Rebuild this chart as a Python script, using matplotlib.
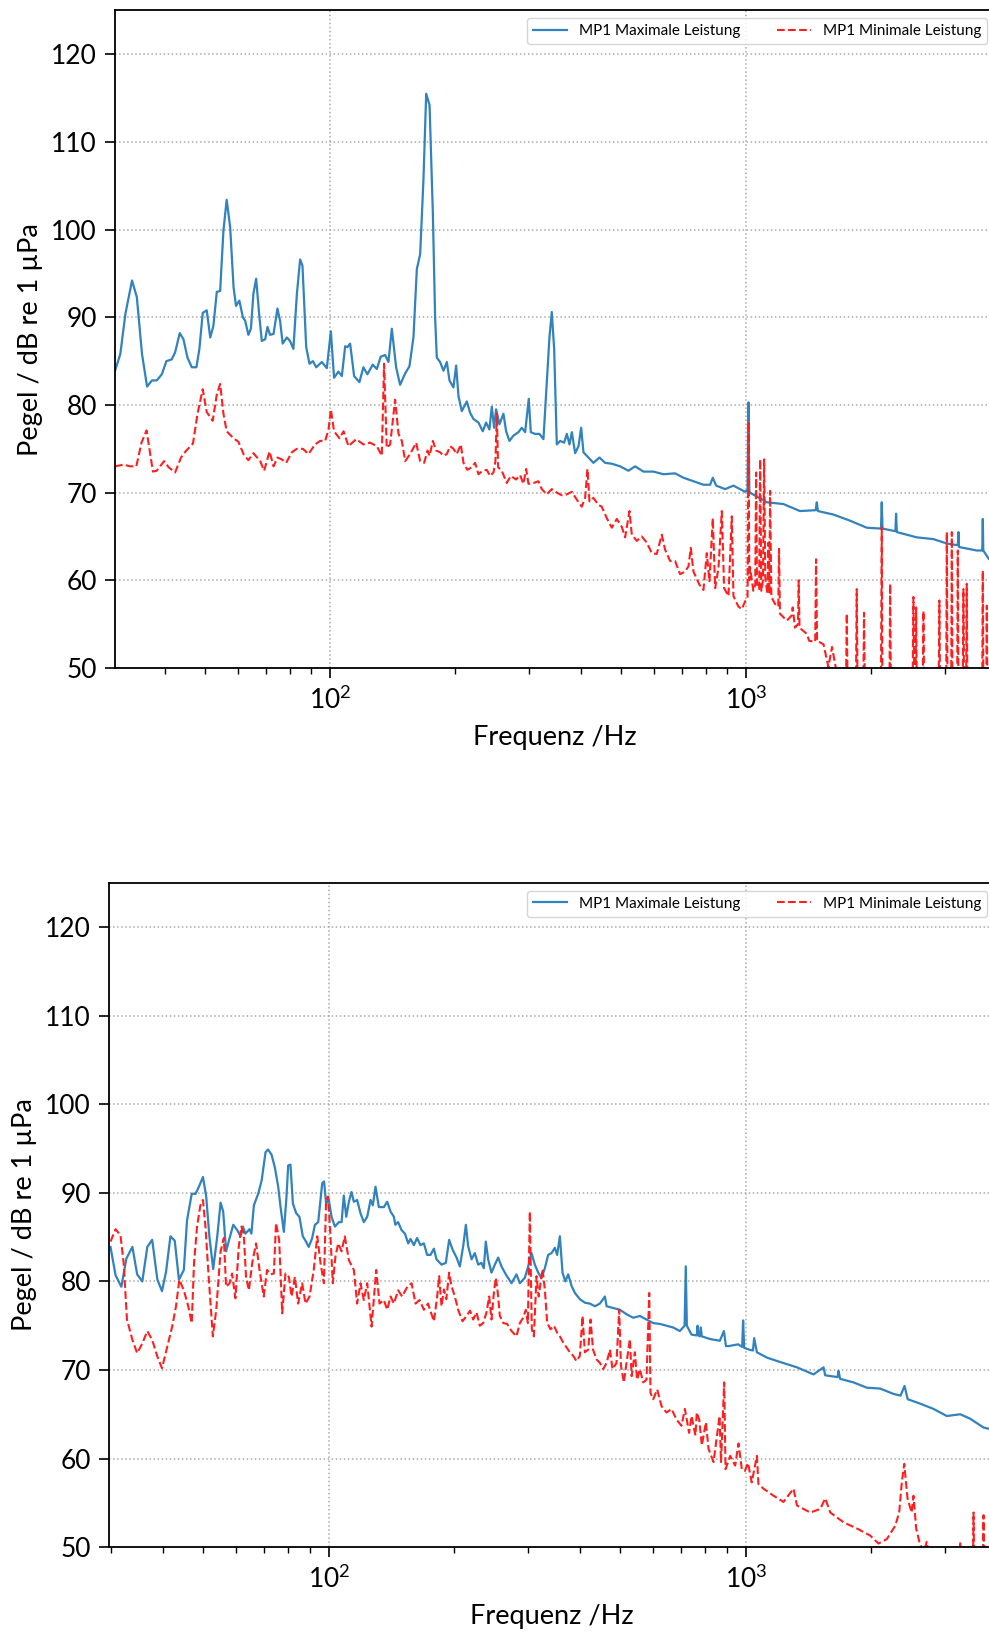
import matplotlib
matplotlib.use("Agg")
import matplotlib.pyplot as plt
from matplotlib.ticker import LogLocator, NullFormatter

plt.rcParams['font.family'] = ['Lato', 'DejaVu Sans']

# (Frequenz Hz, Pegel dB) - oberes Diagramm
top_max = [
    (30.4, 83.9), (31.3, 85.8), (32.2, 90.4), (33.4, 94.2), (34.3, 92.3), (35.3, 85.8),
    (36.3, 82.1), (37.3, 82.8), (38.3, 82.8), (39.4, 83.5), (40.4, 85.0), (41.6, 85.2),
    (42.4, 86.0), (43.5, 88.2), (44.4, 87.5), (45.4, 85.4), (46.5, 84.3), (47.7, 84.3),
    (48.5, 86.4), (49.4, 90.5), (50.5, 90.8), (51.5, 87.7), (52.4, 89.0), (53.4, 92.9),
    (54.4, 93.0), (55.4, 99.9), (56.4, 103.4), (57.5, 100.3), (58.6, 93.4), (59.4, 91.3),
    (60.5, 91.9), (61.7, 90.0), (62.5, 89.6), (63.6, 88.0), (64.5, 88.7), (65.4, 92.7),
    (66.4, 94.4), (67.5, 90.4), (68.5, 87.3), (69.8, 87.5), (70.7, 88.9), (71.7, 88.0),
    (73.1, 88.1), (74.7, 91.0), (75.8, 89.6), (76.9, 87.0), (78.7, 87.7), (80.1, 87.3),
    (81.6, 86.4), (83.2, 92.7), (84.7, 96.6), (85.8, 95.9), (87.6, 86.6), (89.2, 84.7),
    (90.9, 85.0), (92.6, 84.3), (95.5, 84.9), (98.2, 84.2), (100.4, 88.4), (102.2, 83.1),
    (104.7, 83.8), (106.7, 83.3), (108.7, 86.7), (110.1, 86.6), (111.7, 87.0), (114.2, 83.3),
    (117.6, 82.6), (120.2, 84.3), (122.9, 83.5), (126.6, 84.6), (129.5, 84.1), (132.3, 85.5),
    (135.6, 85.7), (138.1, 84.9), (140.7, 88.7), (144.1, 84.3), (147.3, 82.3), (151.5, 83.6),
    (155.1, 84.4), (158.6, 87.7), (161.6, 95.5), (164.6, 97.2), (167.6, 105.6), (170.2, 115.5),
    (173.4, 114.2), (176.6, 101.8), (178.8, 90.0), (180.5, 85.4), (183.8, 84.9), (187.3, 83.9),
    (190.8, 84.9), (193.6, 82.8), (197.9, 82.0), (200.9, 84.5), (203.5, 81.0), (207.3, 79.3),
    (213.1, 80.4), (217.1, 79.1), (221.1, 78.4), (227.3, 78.0), (232.8, 77.0), (237.1, 78.0),
    (241.5, 77.2), (244.7, 79.8), (247.9, 77.4), (250.6, 79.5), (255.3, 77.8), (261.0, 79.0),
    (264.9, 77.0), (269.8, 75.9), (275.9, 76.5), (283.6, 76.9), (288.9, 77.4), (294.3, 76.9),
    (300.3, 80.7), (303.7, 76.9), (311.0, 76.7), (318.5, 76.7), (325.7, 76.1), (331.7, 82.4),
    (336.7, 87.7), (341.1, 90.6), (345.6, 86.4), (350.7, 75.5), (357.2, 75.9), (365.2, 75.7),
    (370.7, 76.7), (376.2, 75.5), (381.1, 76.9), (388.2, 74.5), (395.5, 75.3), (401.3, 77.4),
    (406.5, 74.6), (417.9, 74.0), (429.5, 73.4), (444.1, 74.0), (458.3, 73.4), (475.5, 73.3),
    (497.9, 73.0), (521.3, 72.5), (541.0, 73.0), (566.5, 72.4), (598.7, 72.4), (632.9, 72.1),
    (675.0, 72.2), (707.0, 71.7), (747.2, 71.3), (789.7, 70.9), (819.5, 70.9), (831.7, 71.7),
    (847.2, 70.8), (890.4, 70.4), (932.4, 70.8), (994.5, 70.1), (1008, 70.3), (1013, 80.3),
    (1018, 70.2), (1022, 70.0), (1121, 68.9), (1229, 68.7), (1348, 67.9), (1470, 68.0),
    (1479, 68.9), (1488, 67.9), (1622, 67.5), (1778, 66.8), (1950, 66.0), (2110, 65.9),
    (2119, 68.9), (2128, 65.9), (2285, 65.6), (2294, 67.6), (2304, 65.5), (2572, 64.9),
    (2820, 64.7), (3038, 64.2), (3228, 64.0), (3239, 65.5), (3250, 63.8), (3585, 63.4),
    (3697, 63.4), (3707, 67.0), (3717, 63.4), (3838, 62.4), (3960, 62.8),
]

top_min = [
    (30.4, 73.0), (31.9, 73.2), (33.0, 73.0), (34.2, 73.0), (35.2, 75.7), (36.2, 77.1),
    (37.5, 72.4), (38.3, 72.5), (39.9, 73.6), (40.9, 72.9), (42.4, 72.3), (43.8, 74.0),
    (45.1, 74.8), (46.8, 75.6), (48.0, 79.0), (49.4, 81.8), (50.5, 79.2), (52.2, 78.2),
    (53.4, 81.2), (54.4, 82.4), (55.4, 79.0), (56.4, 77.0), (58.6, 76.2), (60.2, 75.8),
    (61.9, 74.4), (63.6, 73.7), (65.4, 74.5), (67.9, 73.6), (69.4, 72.5), (71.5, 74.7),
    (73.1, 73.0), (74.7, 74.0), (76.5, 73.8), (78.4, 73.4), (80.9, 74.6), (83.2, 75.0),
    (86.0, 75.0), (88.7, 74.4), (92.0, 75.5), (94.6, 75.9), (97.3, 75.9), (99.1, 77.2),
    (100.4, 79.5), (102.2, 77.0), (105.3, 76.2), (107.7, 77.0), (110.7, 75.3), (115.5, 76.1),
    (120.2, 75.5), (124.8, 75.7), (129.5, 75.3), (133.1, 74.2), (134.8, 84.7), (136.8, 75.1),
    (139.4, 75.5), (143.3, 80.6), (146.0, 76.7), (148.7, 75.9), (151.5, 73.6), (155.7, 74.4),
    (161.0, 75.7), (164.6, 73.6), (168.3, 73.4), (171.4, 74.8), (173.4, 74.2), (176.6, 75.9),
    (179.8, 74.8), (183.8, 74.6), (187.3, 74.2), (190.8, 74.4), (194.3, 75.3), (197.9, 75.0),
    (201.6, 74.4), (206.1, 75.5), (209.2, 73.4), (213.8, 72.6), (219.0, 72.9), (223.1, 73.4),
    (227.3, 72.1), (232.8, 72.5), (238.0, 72.6), (242.4, 71.9), (247.0, 72.3), (249.7, 73.6),
    (251.6, 79.0), (253.4, 72.9), (258.6, 72.5), (265.8, 71.1), (271.8, 71.9), (280.0, 71.5),
    (286.2, 72.0), (291.5, 71.0), (296.0, 72.7), (299.8, 71.0), (308.2, 71.1), (316.8, 71.3),
    (322.7, 70.4), (331.7, 69.8), (341.1, 70.4), (350.7, 70.0), (360.5, 69.7), (370.7, 69.8),
    (381.1, 70.1), (391.7, 69.2), (402.7, 68.4), (410.2, 69.4), (415.6, 72.7), (420.2, 69.0),
    (429.5, 69.4), (441.6, 68.6), (449.8, 68.4), (462.4, 67.1), (475.5, 66.0), (488.8, 67.0),
    (502.5, 66.1), (511.9, 64.9), (524.4, 67.9), (531.2, 65.2), (546.0, 64.5), (561.3, 65.0),
    (577.0, 64.3), (593.2, 63.1), (609.8, 63.0), (627.0, 65.2), (638.7, 63.5), (656.6, 62.2),
    (675.0, 62.2), (693.9, 60.7), (713.6, 61.0), (726.9, 61.6), (736.3, 63.7), (747.2, 61.0),
    (772.4, 59.5), (789.7, 58.9), (804.4, 63.1), (816.4, 59.9), (831.7, 67.1), (842.5, 59.1),
    (858.2, 61.4), (874.2, 67.9), (885.5, 59.1), (907.0, 58.2), (923.9, 67.3), (932.4, 58.2),
    (958.5, 57.0), (976.3, 56.7), (994.5, 57.6), (1008, 58.0), (1013, 78.1), (1018, 60.0),
    (1022, 61.5), (1041, 58.8), (1052, 59.5), (1057, 72.3), (1062, 59.6), (1075, 59.0),
    (1081, 73.8), (1088, 58.8), (1098, 60.0), (1105, 73.8), (1112, 60.3), (1125, 58.5),
    (1132, 64.3), (1137, 58.5), (1142, 70.2), (1150, 58.1), (1174, 57.3), (1195, 57.0),
    (1200, 63.6), (1206, 56.2), (1253, 55.4), (1288, 56.0), (1294, 56.9), (1311, 54.6),
    (1333, 55.0), (1338, 60.0), (1344, 54.6), (1399, 53.9), (1418, 53.1), (1466, 53.0),
    (1473, 62.4), (1481, 53.1), (1535, 52.7), (1577, 50.1), (1609, 52.4), (1642, 50.1),
    (1677, 49.5), (1740, 49.5), (1746, 56.2), (1752, 49.5), (1838, 49.3), (1845, 59.0),
    (1852, 49.3), (1915, 49.3), (1921, 56.3), (1928, 49.0), (2017, 49.0), (2110, 49.0),
    (2119, 66.0), (2126, 49.0), (2212, 49.0), (2220, 59.6), (2228, 49.0), (2345, 49.5),
    (2515, 49.0), (2525, 58.1), (2535, 49.0), (2555, 49.0), (2563, 56.9), (2571, 49.0),
    (2660, 49.0), (2669, 56.5), (2678, 49.0), (2905, 49.0), (2915, 57.7), (2925, 49.0),
    (3028, 49.0), (3038, 65.5), (3048, 49.0), (3113, 49.0), (3123, 65.5), (3133, 49.0),
    (3218, 49.0), (3228, 63.4), (3238, 49.0), (3320, 49.0), (3330, 59.0), (3340, 49.0),
    (3382, 49.0), (3392, 59.6), (3402, 49.0), (3697, 49.0), (3707, 61.1), (3717, 49.0),
    (3780, 49.0), (3790, 57.1), (3800, 49.0), (3960, 49.0),
]

# (Frequenz Hz, Pegel dB) - unteres Diagramm
bottom_max = [
    (29.95, 83.9), (30.8, 80.7), (31.8, 79.4), (32.7, 82.6), (33.8, 83.9), (34.7, 80.8),
    (35.7, 80.0), (36.7, 83.9), (37.7, 84.7), (38.8, 80.2), (39.8, 78.9), (40.7, 81.1),
    (41.7, 85.1), (42.7, 84.6), (43.7, 80.2), (44.9, 81.3), (45.7, 86.9), (46.9, 89.9),
    (47.9, 89.9), (48.8, 90.7), (49.9, 91.8), (50.8, 89.6), (51.7, 85.1), (52.8, 81.4),
    (54.0, 85.1), (55.0, 88.9), (55.8, 87.9), (56.7, 83.4), (57.8, 84.9), (59.0, 86.4),
    (60.3, 85.8), (61.4, 85.1), (62.2, 86.2), (63.1, 85.4), (64.5, 85.9), (65.2, 85.4),
    (66.1, 88.6), (67.7, 89.9), (69.0, 91.4), (70.5, 94.6), (71.5, 94.9), (72.9, 94.3),
    (74.2, 92.9), (75.6, 90.7), (76.6, 88.4), (78.0, 85.6), (79.1, 89.4), (79.9, 93.1),
    (80.9, 93.2), (82.0, 88.8), (83.5, 87.7), (85.0, 87.3), (86.6, 85.1), (87.9, 84.6),
    (89.5, 83.9), (91.2, 84.9), (92.6, 86.4), (94.3, 86.7), (95.5, 89.2), (96.4, 91.1),
    (97.4, 91.3), (98.5, 88.8), (100.0, 89.2), (101.5, 87.3), (103.4, 86.2), (105.7, 86.7),
    (107.3, 86.7), (108.6, 89.7), (110.1, 87.3), (111.7, 89.0), (113.3, 90.1), (114.8, 89.0),
    (116.9, 89.2), (119.1, 87.7), (121.3, 86.7), (123.6, 87.3), (125.9, 89.2), (127.5, 88.6),
    (129.4, 90.7), (131.8, 88.4), (135.5, 88.4), (138.0, 89.0), (140.6, 87.9), (143.2, 87.3),
    (144.4, 86.4), (146.6, 86.7), (149.4, 85.8), (152.2, 85.4), (155.0, 84.3), (157.0, 84.8),
    (159.9, 84.1), (162.8, 84.9), (165.8, 84.1), (169.0, 84.3), (172.1, 83.0), (175.3, 83.0),
    (178.6, 83.7), (181.2, 82.5), (186.3, 81.9), (190.8, 82.1), (194.3, 84.7), (198.0, 83.6),
    (202.4, 82.7), (206.1, 81.7), (210.0, 84.0), (213.1, 86.4), (215.8, 84.0), (219.9, 82.5),
    (223.9, 83.2), (228.1, 81.9), (232.3, 82.1), (235.3, 81.5), (237.9, 84.5), (241.0, 82.5),
    (245.5, 81.0), (250.1, 81.9), (254.7, 82.7), (259.4, 81.7), (265.7, 80.8), (274.2, 79.8),
    (281.8, 80.8), (287.1, 79.8), (295.1, 80.4), (300.6, 81.7), (306.2, 83.2), (311.9, 81.9),
    (317.7, 81.0), (323.6, 80.4), (329.6, 81.5), (335.7, 83.0), (342.0, 83.2), (348.3, 83.8),
    (352.8, 83.0), (358.1, 85.1), (363.4, 81.0), (369.0, 80.0), (375.0, 80.8), (382.0, 79.5),
    (389.1, 78.7), (399.9, 78.0), (411.1, 77.6), (422.6, 77.5), (434.5, 77.2), (446.7, 77.5),
    (459.2, 78.3), (463.6, 77.2), (480.9, 77.0), (498.9, 76.8), (517.4, 76.3), (536.9, 75.9),
    (556.9, 76.1), (577.8, 75.7), (599.6, 75.3), (622.1, 75.2), (645.3, 75.0), (669.6, 74.8),
    (694.6, 74.4), (713.0, 75.0), (717.7, 81.7), (722.0, 75.0), (740.8, 74.0), (762.8, 73.9),
    (766.0, 75.0), (770.0, 73.9), (775.7, 73.8), (780.0, 74.8), (784.0, 73.8), (819.8, 73.5),
    (866.3, 73.3), (886.0, 74.4), (896.0, 72.7), (910.0, 72.7), (958.6, 72.9), (980.0, 72.6),
    (985.0, 75.6), (991.0, 72.5), (1018, 72.3), (1040, 72.2), (1047, 73.6), (1063, 72.0),
    (1123, 71.4), (1209, 70.9), (1326, 70.3), (1453, 69.5), (1536, 70.3), (1550, 69.4),
    (1660, 69.2), (1668, 69.9), (1683, 69.0), (1812, 68.6), (1951, 68.0), (2100, 67.9),
    (2260, 67.3), (2349, 67.1), (2402, 68.2), (2444, 66.7), (2618, 66.2), (2819, 65.6),
    (3034, 64.8), (3266, 65.0), (3451, 64.5), (3715, 63.5), (3960, 63.2),
]

bottom_min = [
    (29.95, 84.5), (30.8, 85.9), (31.65, 85.2), (32.2, 82.1), (32.8, 75.7), (33.8, 73.4),
    (34.7, 71.9), (35.7, 73.0), (36.7, 74.4), (37.7, 73.4), (38.8, 71.5), (39.8, 70.2),
    (41.0, 72.7), (42.1, 74.9), (43.0, 77.2), (43.8, 80.2), (44.9, 79.0), (46.0, 77.2),
    (46.9, 75.3), (47.5, 82.1), (48.3, 86.2), (49.2, 88.6), (49.9, 89.2), (50.6, 86.2),
    (51.5, 80.5), (52.7, 73.8), (53.7, 76.8), (55.0, 83.4), (56.0, 84.9), (56.7, 79.4),
    (57.8, 79.8), (58.6, 80.9), (59.7, 78.1), (60.8, 83.9), (61.7, 86.2), (62.5, 85.4),
    (63.3, 80.5), (64.3, 79.0), (65.5, 82.1), (66.9, 84.3), (68.2, 81.3), (69.8, 78.3),
    (71.1, 81.3), (72.5, 80.8), (73.8, 80.9), (74.7, 86.6), (76.0, 84.7), (77.3, 76.4),
    (78.7, 80.9), (80.2, 80.5), (81.4, 78.3), (82.9, 80.5), (84.4, 77.5), (86.3, 79.8),
    (87.9, 77.5), (89.9, 78.3), (92.0, 81.3), (93.8, 85.1), (95.5, 82.1), (97.3, 79.8),
    (98.5, 89.2), (99.6, 89.6), (100.9, 85.1), (102.2, 79.8), (103.7, 82.8), (105.3, 84.3),
    (107.3, 83.4), (109.2, 85.1), (111.7, 82.4), (114.8, 81.3), (116.9, 77.5), (119.1, 79.8),
    (121.3, 77.9), (123.6, 79.8), (126.6, 74.9), (129.9, 81.3), (132.3, 77.5), (135.5, 77.9),
    (138.0, 76.8), (140.6, 78.3), (143.2, 77.5), (146.6, 79.0), (149.9, 78.3), (154.2, 79.4),
    (157.9, 79.8), (161.4, 77.5), (165.0, 77.9), (169.0, 76.8), (172.9, 77.5), (178.6, 75.5),
    (181.9, 78.3), (183.9, 80.6), (186.3, 77.2), (188.8, 79.1), (191.3, 78.0), (194.3, 81.0),
    (196.8, 79.5), (200.5, 78.3), (204.2, 76.8), (209.2, 75.5), (213.8, 76.1), (218.1, 76.7),
    (221.9, 75.7), (226.0, 76.5), (230.2, 75.0), (234.5, 75.3), (238.8, 76.5), (242.4, 78.3),
    (245.5, 75.7), (248.7, 78.7), (251.4, 80.4), (254.2, 78.7), (257.1, 76.1), (262.0, 75.3),
    (267.7, 75.2), (274.2, 74.4), (281.8, 73.8), (287.1, 75.3), (292.4, 75.9), (296.8, 76.8),
    (300.1, 75.3), (303.4, 87.9), (306.7, 74.6), (310.2, 73.8), (314.8, 80.6), (318.5, 78.3),
    (325.4, 81.4), (329.6, 79.1), (333.9, 75.3), (340.1, 74.6), (346.7, 75.0), (352.8, 74.2),
    (358.1, 73.8), (364.8, 73.1), (372.1, 72.5), (378.4, 72.0), (385.5, 71.6), (392.6, 71.0),
    (399.9, 71.6), (405.8, 76.1), (411.1, 72.0), (418.8, 72.3), (424.2, 75.7), (430.1, 72.3),
    (438.5, 71.2), (446.7, 70.8), (454.9, 70.1), (463.6, 70.8), (472.1, 72.3), (478.9, 70.1),
    (489.6, 70.8), (496.9, 76.8), (501.7, 70.5), (509.8, 68.6), (517.4, 70.8), (527.1, 73.5),
    (532.3, 69.3), (541.8, 72.0), (548.6, 68.9), (556.9, 70.1), (567.3, 68.6), (577.8, 68.9),
    (586.5, 78.7), (590.7, 67.4), (599.6, 66.7), (613.0, 67.8), (627.9, 65.9), (645.3, 65.2),
    (663.5, 65.6), (681.9, 64.4), (701.0, 63.7), (714.2, 65.6), (731.0, 62.9), (740.8, 64.8),
    (757.0, 62.6), (762.8, 65.2), (772.9, 64.4), (784.4, 61.5), (802.0, 64.1), (813.8, 61.1),
    (836.6, 59.6), (864.9, 64.8), (872.0, 59.6), (887.2, 68.6), (894.0, 58.8), (917.2, 60.3),
    (942.7, 59.2), (960.3, 61.7), (978.0, 58.8), (994.5, 58.6), (1012, 59.5), (1033, 57.3),
    (1063, 60.3), (1072, 57.1), (1102, 56.6), (1165, 55.8), (1231, 55.1), (1301, 56.6),
    (1326, 54.7), (1427, 53.9), (1508, 54.3), (1550, 55.5), (1594, 53.9), (1715, 52.8),
    (1846, 52.1), (1987, 51.3), (2080, 50.4), (2178, 50.9), (2281, 52.4), (2332, 53.9),
    (2366, 57.3), (2398, 59.4), (2442, 55.5), (2498, 53.9), (2524, 55.8), (2561, 52.1),
    (2607, 50.6), (2668, 49.4), (2715, 50.6), (2762, 48.3), (3256, 48.5), (3266, 50.6),
    (3276, 48.5), (3506, 48.5), (3516, 53.9), (3526, 48.5), (3705, 48.5), (3715, 53.6),
    (3725, 48.5), (3960, 48.5),
]

labels = ['MP1 Maximale Leistung', 'MP1 Minimale Leistung']
yticks = [50, 60, 70, 80, 90, 100, 110, 120]

blue = '#3182bd'
red = '#ff1f1f'


def draw_panel(ax, max_pts, min_pts, xlim):
    f1, p1 = zip(*max_pts)
    f2, p2 = zip(*min_pts)
    ax.plot(f1, p1, color=blue, lw=1.6, label=labels[0])
    ax.plot(f2, p2, color=red, lw=1.5, ls='--', label=labels[1])
    ax.set_xscale('log')
    ax.set_xlim(xlim)
    ax.set_ylim(50, 125)
    ax.set_yticks(yticks)
    ax.xaxis.set_minor_locator(LogLocator(base=10, subs=range(2, 10)))
    ax.xaxis.set_minor_formatter(NullFormatter())
    ax.grid(True, which='major', ls=':', color='#aaaaaa', lw=1.1)
    ax.tick_params(which='major', length=7, width=1.2, pad=6, labelsize=19)
    ax.tick_params(which='minor', length=4, width=1.0)
    for s in ax.spines.values():
        s.set_linewidth(1.3)
    ax.set_xlabel('Frequenz /Hz', fontsize=19.5, labelpad=8)
    ax.set_ylabel('Pegel / dB re 1 µPa', fontsize=19.5, labelpad=6)
    ax.legend(loc='upper right', ncol=2, fontsize=11, columnspacing=2.4,
              handlelength=2.2)


fig = plt.figure(figsize=(9.89, 16.34), dpi=100)
ax1 = fig.add_axes([0.1163, 0.5912, 0.8898, 0.4024])
ax2 = fig.add_axes([0.1102, 0.0532, 0.8959, 0.4064])
draw_panel(ax1, top_max, top_min, (30.4, 3967))
draw_panel(ax2, bottom_max, bottom_min, (29.7, 3959))

fig.savefig('out.png', dpi=100)
